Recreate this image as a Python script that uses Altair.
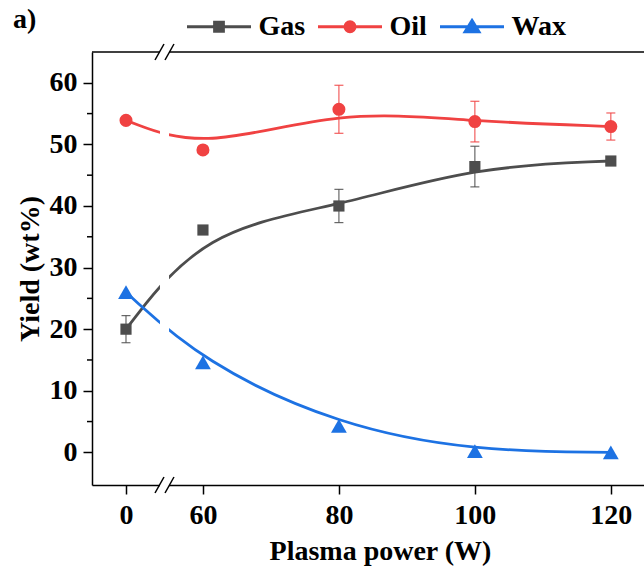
import altair as alt
import pandas as pd

# ---- measured yields (wt%) vs plasma power (W) ----
power = [0, 60, 80, 100, 120]
gas = [20.0, 36.1, 40.0, 46.4, 47.3]
gas_err = [2.2, 0.0, 2.7, 3.3, 0.0]
oil = [53.9, 49.1, 55.7, 53.7, 52.9]
oil_err = [0.0, 0.0, 3.9, 3.3, 2.2]
wax = [26.0, 14.6, 4.3, 0.2, 0.0]
wax_err = [0.0, 0.0, 0.0, 0.0, 0.0]

series = ["Gas", "Oil", "Wax"]
colors = ["#4d4d4d", "#f04242", "#1d72e3"]
marker_shapes = ["square", "circle", "triangle-up"]
marker_sizes = [125, 170, 250]
# legend glyphs: a line with the marker in the middle (unit coordinates)
legend_paths = [
    "M-1,0H1M-0.14,-0.14H0.14V0.14H-0.14Z",
    "M-1,0H1M0.16,0A0.16,0.16,0,1,1,-0.16,0A0.16,0.16,0,1,1,0.16,0Z",
    "M-1,0H1M0,-0.2L0.22,0.16H-0.22Z",
]

x_tick_labels = [0, 60, 80, 100, 120]
y_major = list(range(0, 61, 10))
y_minor = list(range(5, 60, 10))

# broken x axis: powers of 60 W and above are drawn shifted left by this amount
AXIS_SHIFT = 48.68
X_DOMAIN = [-5.0, 76.2]
Y_DOMAIN = [-5.3, 65.0]
BREAK_GAP = [5.0, 6.33]
BREAK_MARKS = [4.93, 6.4]

FONT = "Times New Roman, Liberation Serif, DejaVu Serif, serif"

rows = []
for name, vals, errs in zip(series, [gas, oil, wax], [gas_err, oil_err, wax_err]):
    for p, v, e in zip(power, vals, errs):
        rows.append({"series": name, "power": p, "value": v, "err": e})
df = pd.DataFrame(rows)

xpos_expr = f"datum.power >= 60 ? datum.power - {AXIS_SHIFT} : datum.power"
x_tick_pos = [t - AXIS_SHIFT if t >= 60 else t for t in x_tick_labels]

x_scale = alt.Scale(domain=X_DOMAIN, nice=False, zero=False)
y_scale = alt.Scale(domain=Y_DOMAIN, nice=False, zero=False)

x_axis = alt.Axis(
    values=x_tick_pos,
    labelExpr=f"datum.value > 5 ? format(datum.value + {AXIS_SHIFT}, '.0f') : format(datum.value, '.0f')",
    title="Plasma power (W)",
    titleX=288,
    titleY=74,
    titleBaseline="alphabetic",
    tickSize=9,
    labelPadding=7,
    grid=False,
)
y_axis = alt.Axis(
    values=y_major,
    title="Yield (wt%)",
    titleX=-54,
    titleBaseline="alphabetic",
    tickSize=9,
    labelPadding=6,
    grid=False,
)


def X(field):
    return alt.X(field, scale=x_scale, axis=x_axis)


def Y(field):
    return alt.Y(field, scale=y_scale, axis=y_axis)


base = alt.Chart(df).transform_calculate(xpos=xpos_expr)

# top edge of the frame
frame = alt.Chart(
    pd.DataFrame({"x": [X_DOMAIN[0]], "x2": [X_DOMAIN[1]], "y": [Y_DOMAIN[1]]})
).mark_rule(color="black", strokeWidth=1.5).encode(x=X("x:Q"), x2="x2:Q", y=Y("y:Q"))

# minor ticks on the y axis
minor_ticks = alt.Chart(pd.DataFrame({"v": y_minor})).mark_rule(
    color="black", strokeWidth=1.5
).encode(x=alt.value(0), x2=alt.value(-5), y=Y("v:Q"))

curves = []
for name, col in zip(series, colors):
    curves.append(
        base.transform_filter(f"datum.series == '{name}'")
        .mark_line(interpolate="basis", strokeWidth=2.8, color=col)
        .encode(x=X("xpos:Q"), y=Y("value:Q"))
    )

# white band hiding everything inside the axis break
mask = alt.Chart(
    pd.DataFrame({"x": [BREAK_GAP[0]], "x2": [BREAK_GAP[1]],
                  "y": [Y_DOMAIN[0] - 0.4], "y2": [Y_DOMAIN[1] + 0.3]})
).mark_rect(color="white").encode(x=X("x:Q"), x2="x2:Q", y=Y("y:Q"), y2="y2:Q")

slash_rows = []
for edge in Y_DOMAIN:
    for c in BREAK_MARKS:
        slash_rows.append({"x": c - 0.66, "x2": c + 0.66, "y": edge - 1.3, "y2": edge + 1.3})
slashes = alt.Chart(pd.DataFrame(slash_rows)).mark_rule(color="black", strokeWidth=1.5).encode(
    x=X("x:Q"), x2="x2:Q", y=Y("y:Q"), y2="y2:Q"
)

markers = []
for name, col, shp, sz in zip(series, colors, marker_shapes, marker_sizes):
    sub = base.transform_filter(f"datum.series == '{name}'")
    err = sub.transform_filter("datum.err > 0").transform_calculate(
        lo="datum.value - datum.err", hi="datum.value + datum.err"
    )
    markers.append(
        err.mark_rule(color=col, strokeWidth=1.2, opacity=0.85).encode(
            x=X("xpos:Q"), y=Y("lo:Q"), y2="hi:Q")
    )
    for end in ["lo", "hi"]:
        markers.append(
            err.mark_rule(color=col, strokeWidth=1.2, opacity=0.85, xOffset=-4.5, x2Offset=4.5).encode(
                x=X("xpos:Q"), x2="xpos:Q", y=Y(f"{end}:Q"))
        )
    markers.append(
        sub.mark_point(shape=shp, filled=True, size=sz, color=col, opacity=1, strokeWidth=0).encode(
            x=X("xpos:Q"), y=Y("value:Q"))
    )

legend_props = dict(
    orient="none",
    legendX=93.5,
    legendY=-59,
    direction="horizontal",
    title=None,
    labelFont=FONT,
    labelFontSize=28,
    labelFontWeight="bold",
    labelColor="black",
    labelOffset=6,
    columnPadding=6,
    padding=0,
    symbolSize=4096,
    symbolStrokeWidth=2.8,
    symbolOpacity=1,
)
legend_layer = alt.Chart(df).transform_filter("false").mark_point(filled=True, opacity=1).encode(
    fill=alt.Fill("series:N", scale=alt.Scale(domain=series, range=colors),
                  legend=alt.Legend(**legend_props)),
    stroke=alt.Stroke("series:N", scale=alt.Scale(domain=series, range=colors),
                      legend=alt.Legend(**legend_props)),
    shape=alt.Shape("series:N", scale=alt.Scale(domain=series, range=legend_paths),
                    legend=alt.Legend(**legend_props)),
)

panel_tag = alt.Chart(pd.DataFrame({"t": ["a)"]})).mark_text(
    font=FONT, fontSize=28, fontWeight="bold", align="left", baseline="alphabetic", color="black"
).encode(x=alt.value(-79), y=alt.value(-24), text="t:N")

chart = alt.layer(
    frame, minor_ticks, *curves, mask, slashes, *markers, legend_layer, panel_tag
).properties(
    width=552,
    height=433,
    autosize=alt.AutoSizeParams(type="none"),
    padding={"left": 92, "top": 52, "right": 0, "bottom": 85},
).configure_view(stroke=None).configure_axis(
    domainColor="black",
    domainWidth=1.5,
    tickColor="black",
    tickWidth=1.5,
    labelFont=FONT,
    labelFontSize=28,
    labelFontWeight="bold",
    labelColor="black",
    titleFont=FONT,
    titleFontSize=28,
    titleFontWeight="bold",
    titleColor="black",
)

chart.save("out.html", embed_options={"renderer": "svg", "actions": False})
